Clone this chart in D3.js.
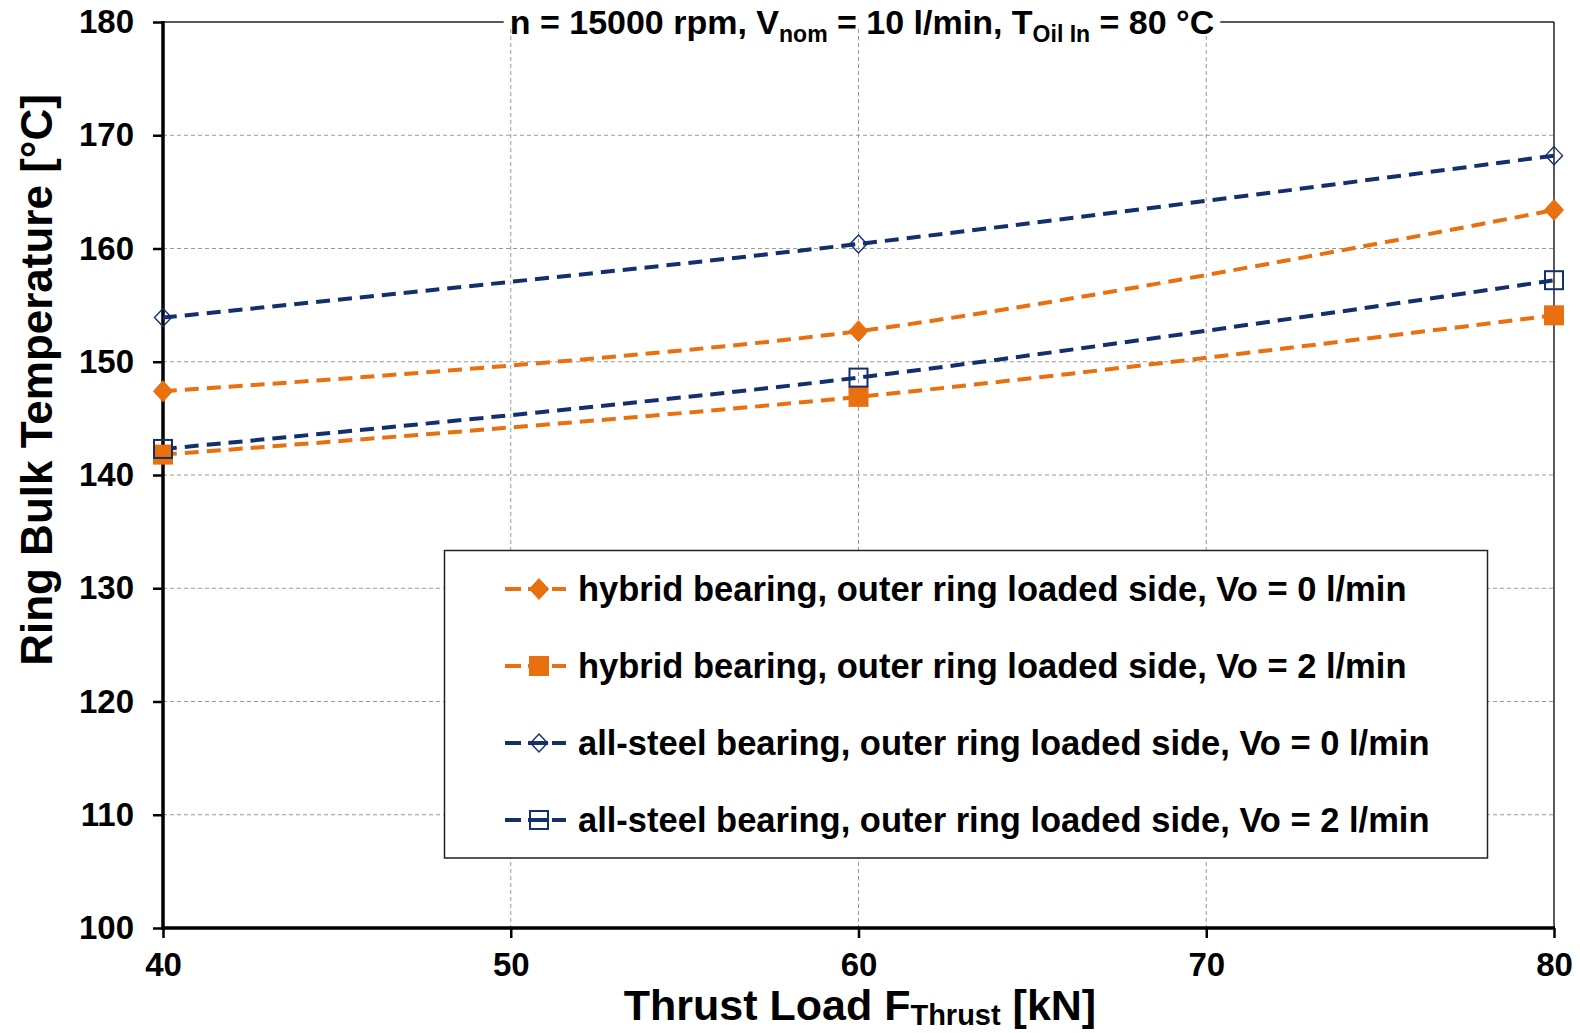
<!DOCTYPE html>
<html>
<head>
<meta charset="utf-8">
<script src="https://cdn.jsdelivr.net/npm/d3@7"></script>
<style>
  html, body { margin: 0; padding: 0; background: #fff; }
  svg { display: block; font-family: "Liberation Sans", Arial, sans-serif; font-weight: bold; }
</style>
</head>
<body>
<svg id="chart" width="1580" height="1033"></svg>
<script>
// Thrust load levels [kN]
const loads = [40, 60, 80];

// Ring bulk temperature [°C] per configuration
const hybridVo0 = [147.4, 152.7, 163.4];
const hybridVo2 = [141.8, 146.9, 154.1];
const steelVo0  = [153.9, 160.4, 168.2];
const steelVo2  = [142.3, 148.6, 157.2];

// Series labels
const seriesNames = [
  "hybrid bearing, outer ring loaded side, Vo = 0 l/min",
  "hybrid bearing, outer ring loaded side, Vo = 2 l/min",
  "all-steel bearing, outer ring loaded side, Vo = 0 l/min",
  "all-steel bearing, outer ring loaded side, Vo = 2 l/min"
];

// Axis ticks
const xTicks = [40, 50, 60, 70, 80];
const yTicks = [100, 110, 120, 130, 140, 150, 160, 170, 180];

const ORANGE = "#E8700F";
const NAVY = "#132F6C";

const series = [
  { name: seriesNames[0], values: hybridVo0, color: ORANGE, shape: "diamond", filled: true },
  { name: seriesNames[1], values: hybridVo2, color: ORANGE, shape: "square",  filled: true },
  { name: seriesNames[2], values: steelVo0,  color: NAVY,   shape: "diamond", filled: false },
  { name: seriesNames[3], values: steelVo2,  color: NAVY,   shape: "square",  filled: false }
];

const svg = d3.select("#chart");
const L = 163, R = 1554, T = 22, B = 928;

const x = d3.scaleLinear().domain([40, 80]).range([L, R]);
const y = d3.scaleLinear().domain([100, 180]).range([B, T]);

// Grid lines
const grid = svg.append("g");
grid.selectAll("line.h").data(yTicks.filter(v => v > 100 && v < 180)).join("line")
  .attr("x1", L).attr("x2", R).attr("y1", d => y(d)).attr("y2", d => y(d))
  .attr("stroke", "#9a9a9a").attr("stroke-width", 1).attr("stroke-dasharray", "4,3");
grid.selectAll("line.v").data(xTicks.filter(v => v > 40 && v < 80)).join("line")
  .attr("y1", T).attr("y2", B).attr("x1", d => x(d)).attr("x2", d => x(d))
  .attr("stroke", "#9a9a9a").attr("stroke-width", 1).attr("stroke-dasharray", "4,3");

// Plot frame: thin top and right edges
svg.append("line").attr("x1", L).attr("x2", R).attr("y1", T).attr("y2", T)
  .attr("stroke", "#222").attr("stroke-width", 1.5);
svg.append("line").attr("x1", R).attr("x2", R).attr("y1", T).attr("y2", B)
  .attr("stroke", "#222").attr("stroke-width", 1.5);

// Axes
const yAxis = d3.axisLeft(y).tickValues(yTicks).tickSize(10).tickPadding(19).tickFormat(d3.format("d"));
const xAxis = d3.axisBottom(x).tickValues(xTicks).tickSize(10).tickPadding(15).tickFormat(d3.format("d"));

const gy = svg.append("g").attr("transform", `translate(${L},0)`).call(yAxis);
const gx = svg.append("g").attr("transform", `translate(0,${B})`).call(xAxis);
[gx, gy].forEach(g => {
  g.select(".domain").remove();
  g.selectAll(".tick line").attr("stroke", "#000").attr("stroke-width", 2.5);
  g.selectAll(".tick text").attr("fill", "#000").attr("font-size", 33)
    .attr("font-family", "Liberation Sans, Arial, sans-serif").attr("font-weight", "bold");
});
svg.append("line").attr("x1", L).attr("x2", L).attr("y1", T - 1).attr("y2", B + 1.5)
  .attr("stroke", "#000").attr("stroke-width", 3.5);
svg.append("line").attr("x1", L - 1.5).attr("x2", R + 1).attr("y1", B).attr("y2", B)
  .attr("stroke", "#000").attr("stroke-width", 3.5);

// Marker drawing
function marker(g, shape, filled, color, cx, cy) {
  if (shape === "diamond") {
    const w = filled ? 9.5 : 8.5, h = filled ? 10.5 : 9;
    g.append("path")
      .attr("d", `M${cx},${cy - h}L${cx + w},${cy}L${cx},${cy + h}L${cx - w},${cy}Z`)
      .attr("fill", filled ? color : "none")
      .attr("stroke", color).attr("stroke-width", filled ? 1 : 1.4);
  } else {
    const s = filled ? 20 : 18;
    g.append("rect").attr("x", cx - s / 2).attr("y", cy - s / 2).attr("width", s).attr("height", s)
      .attr("fill", filled ? color : "none")
      .attr("stroke", color).attr("stroke-width", filled ? 0 : 2);
  }
}

// Series lines and markers
const line = d3.line().x((d, i) => x(loads[i])).y(d => y(d)).curve(d3.curveCatmullRom.alpha(0.5));
const plot = svg.append("g");
series.forEach(s => {
  plot.append("path").attr("d", line(s.values))
    .attr("fill", "none").attr("stroke", s.color).attr("stroke-width", 4)
    .attr("stroke-dasharray", "14,8").attr("stroke-linecap", "butt");
});
series.forEach(s => {
  const g = plot.append("g");
  s.values.forEach((v, i) => marker(g, s.shape, s.filled, s.color, x(loads[i]), y(v)));
});

// Title on the top frame with white backing
const titleBg = svg.append("rect").attr("fill", "#fff");
const title = svg.append("text").attr("x", 862).attr("y", 34)
  .attr("text-anchor", "middle").attr("font-size", 34).attr("fill", "#000");
title.append("tspan").text("n = 15000 rpm, V");
title.append("tspan").attr("font-size", 23).attr("dy", 8).text("nom");
title.append("tspan").attr("dy", -8).text(" = 10 l/min, T");
title.append("tspan").attr("font-size", 23).attr("dy", 8).text("Oil In");
title.append("tspan").attr("dy", -8).text(" = 80 °C");
const tb = title.node().getBBox();
titleBg.attr("x", tb.x - 6).attr("y", T - 3).attr("width", tb.width + 12).attr("height", 8);

// Axis titles
svg.append("text").attr("transform", "translate(52,380) rotate(-90)")
  .attr("text-anchor", "middle").attr("font-size", 44).attr("fill", "#000")
  .text("Ring Bulk Temperature  [°C]");

const xt = svg.append("text").attr("x", 860).attr("y", 1020)
  .attr("text-anchor", "middle").attr("font-size", 43).attr("fill", "#000");
xt.append("tspan").text("Thrust Load F");
xt.append("tspan").attr("font-size", 29).attr("dy", 5).text("Thrust");
xt.append("tspan").attr("dy", -5).text(" [kN]");

// Legend
const lg = svg.append("g");
lg.append("rect").attr("x", 444.5).attr("y", 550.5).attr("width", 1043).attr("height", 307.5)
  .attr("fill", "#fff").attr("stroke", "#222").attr("stroke-width", 1.5);
const rowY = [589, 666, 743, 820];
series.forEach((s, i) => {
  const cy = rowY[i];
  lg.append("line").attr("x1", 505).attr("x2", 521).attr("y1", cy).attr("y2", cy)
    .attr("stroke", s.color).attr("stroke-width", 4);
  lg.append("line").attr("x1", 552).attr("x2", 566).attr("y1", cy).attr("y2", cy)
    .attr("stroke", s.color).attr("stroke-width", 4);
  lg.append("line").attr("x1", 528).attr("x2", 548).attr("y1", cy).attr("y2", cy)
    .attr("stroke", s.color).attr("stroke-width", 4);
  marker(lg, s.shape, s.filled, s.color, 539, cy);
  lg.append("text").attr("x", 578).attr("y", cy + 12).attr("font-size", 34.5).attr("fill", "#000")
    .text(s.name);
});
</script>
</body>
</html>
